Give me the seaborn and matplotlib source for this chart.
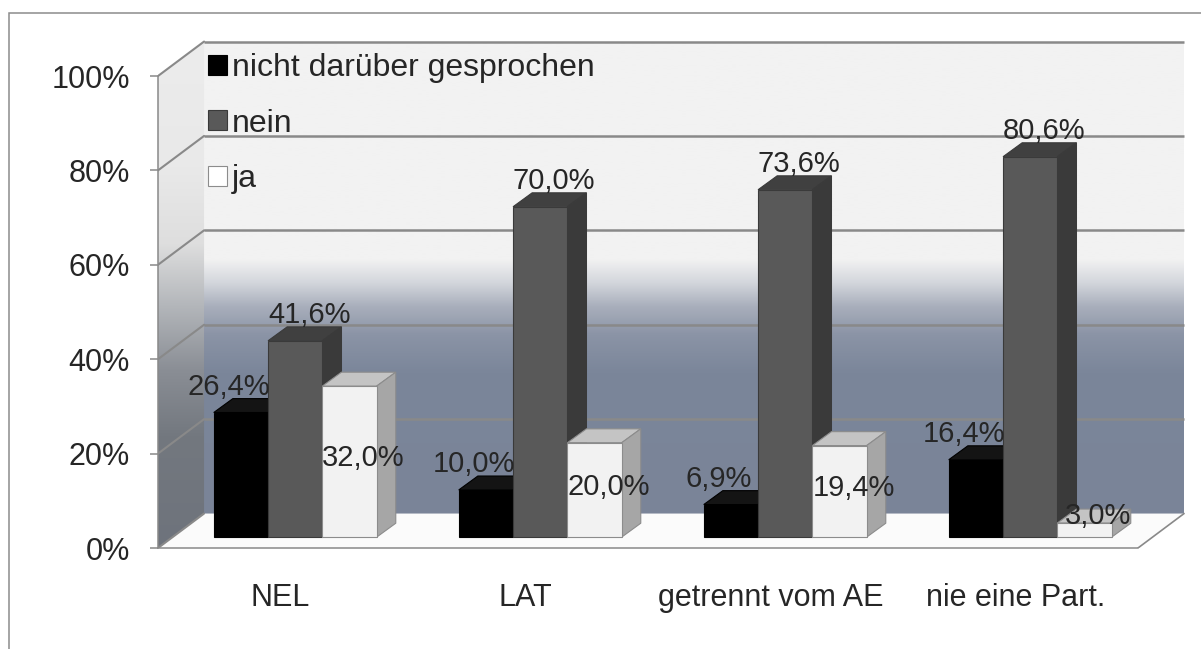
import matplotlib
matplotlib.use("Agg")
import matplotlib.pyplot as plt
import matplotlib.patches as mpatches
from matplotlib.colors import LinearSegmentedColormap
import numpy as np
import pandas as pd
import seaborn as sns

# Daten (Anteile in %)
categories = ["NEL", "LAT", "getrennt vom AE", "nie eine Part."]
series = ["nicht darüber gesprochen", "nein", "ja"]
nicht_darueber = [26.4, 10.0, 6.9, 16.4]
nein = [41.6, 70.0, 73.6, 80.6]
ja = [32.0, 20.0, 19.4, 3.0]
y_ticks = [0, 20, 40, 60, 80, 100]

front_colors = ["#000000", "#595959", "#f2f2f2"]
side_colors = ["#050505", "#3a3a3a", "#a6a6a6"]
top_colors = ["#141414", "#404040", "#c4c4c4"]
edge_colors = ["#000000", "#3a3a3a", "#8c8c8c"]
grid_col = "#898989"

df = pd.DataFrame({
    "Kategorie": categories * 3,
    "Antwort": [s for s in series for _ in categories],
    "Anteil": nicht_darueber + nein + ja,
})

sns.set_style("white")
plt.rcParams["font.family"] = ["Liberation Sans", "DejaVu Sans"]

W, H = 1201, 649
fig = plt.figure(figsize=(W / 100, H / 100), dpi=100)

# Plotbox in Pixeln (Vorderkante)
x0_px, y0_px = 158, 548
cat_px, pct_px = 245, 4.72
xlim = (-0.5, 3.75)
ylim = (0, 108)
ax = fig.add_axes([x0_px / W, (H - y0_px) / H,
                   (xlim[1] - xlim[0]) * cat_px / W,
                   (ylim[1] - ylim[0]) * pct_px / H])
ax.patch.set_alpha(0)

# 3D-Tiefe der Wand und der Säulen (in Dateneinheiten)
dxf, dyf = 0.188, 7.3
ox, oy = 0.06, 2.3
bdx, bdy = 0.078, 2.95

# Rückwand mit Verlauf
wall_cmap = LinearSegmentedColormap.from_list("wall", [
    (0.0, "#7a8498"), (0.30, "#7b869a"), (0.38, "#8b94a6"), (0.44, "#a9afbc"),
    (0.49, "#d3d6dc"), (0.54, "#f2f2f2"), (1.0, "#f2f2f2")])
grad = np.linspace(0, 1, 256).reshape(-1, 1)
ax.imshow(grad, cmap=wall_cmap, extent=[-0.5 + dxf, 3.5 + dxf, dyf, 100 + dyf],
          origin="lower", aspect="auto", zorder=0, interpolation="bilinear")

# Seitenwand
side_cmap = LinearSegmentedColormap.from_list("side", [
    (0.0, "#6e737c"), (0.22, "#73787f"), (0.35, "#8a8e95"), (0.48, "#b4b7bb"),
    (0.60, "#dedede"), (0.75, "#e9e9e9"), (1.0, "#ececec")])
side_poly = mpatches.Polygon([(-0.5, 0), (-0.5 + dxf, dyf), (-0.5 + dxf, 100 + dyf), (-0.5, 100)],
                             closed=True, fc="none", ec="none")
ax.add_patch(side_poly)
im = ax.imshow(grad, cmap=side_cmap, extent=[-0.5, -0.5 + dxf, 0, 100 + dyf],
               origin="lower", aspect="auto", zorder=0, interpolation="bilinear")
im.set_clip_path(side_poly)

# Boden
floor = mpatches.Polygon([(-0.5, 0), (3.5, 0), (3.5 + dxf, dyf), (-0.5 + dxf, dyf)],
                         closed=True, fc="#fbfbfb", ec="none", zorder=1)
ax.add_patch(floor)
ax.plot([3.5, 3.5 + dxf], [0, dyf], color=grid_col, lw=1.2, zorder=2)

# Gitternetz
for t in y_ticks:
    ax.plot([-0.5, -0.5 + dxf], [t, t + dyf], color=grid_col, lw=1.5, zorder=2)
    if t > 0:
        ax.plot([-0.5 + dxf, 3.5 + dxf], [t + dyf, t + dyf], color=grid_col, lw=1.8, zorder=2,
                solid_capstyle="butt")

sns.barplot(data=df, x="Kategorie", y="Anteil", hue="Antwort", palette=front_colors,
            saturation=1, width=0.665, ax=ax, legend=False)

# Säulen als Quader
bars = []
for k, cont in enumerate(ax.containers):
    for p in cont.patches:
        bars.append((p.get_x(), k, p))
bars.sort(key=lambda t: t[0])
for i, (_, k, p) in enumerate(bars):
    x, w, h = p.get_x() + ox, p.get_width(), p.get_height()
    p.set_x(x)
    p.set_y(oy)
    p.set_edgecolor(edge_colors[k])
    p.set_linewidth(0.8)
    z = 5 + i * 0.01
    p.set_zorder(z + 0.002)
    top = mpatches.Polygon([(x, oy + h), (x + w, oy + h), (x + w + bdx, oy + h + bdy), (x + bdx, oy + h + bdy)],
                           closed=True, fc=top_colors[k], ec=edge_colors[k], lw=0.8, zorder=z)
    side = mpatches.Polygon([(x + w, oy), (x + w + bdx, oy + bdy), (x + w + bdx, oy + h + bdy), (x + w, oy + h)],
                            closed=True, fc=side_colors[k], ec=edge_colors[k], lw=0.8, zorder=z + 0.001)
    ax.add_patch(top)
    ax.add_patch(side)

    txt = f"{h:.1f}%".replace(".", ",")
    cx = x + w / 2
    if k == 0:
        ax.text(cx - 0.05, oy + h + bdy - 0.5, txt, ha="center", va="bottom", fontsize=21, zorder=20)
    elif k == 1:
        ax.text(cx + 0.057, oy + h + bdy - 0.5, txt, ha="center", va="bottom", fontsize=21, zorder=20)
    else:
        ax.text(cx + 0.057, oy + max(h / 2 + bdy / 2 - 0.8, 4.5), txt, ha="center", va="center",
                fontsize=21, zorder=20)

# Achsen
ax.set_xlim(xlim)
ax.set_ylim(ylim)
ax.set_xlabel("")
ax.set_ylabel("")
ax.set_xticks(range(len(categories)))
ax.set_xticklabels(categories, fontsize=22)
ax.set_xticks(np.arange(-0.5, len(categories), 1), minor=True)
ax.set_yticks(y_ticks)
ax.set_yticklabels([f"{t}%" for t in y_ticks], fontsize=22)
ax.tick_params(axis="x", which="major", length=0, pad=25)
ax.tick_params(axis="x", which="minor", length=5.8, width=1.1, color=grid_col, direction="out")
ax.tick_params(axis="y", length=5.8, width=1.1, color=grid_col, direction="out", pad=14.4, left=True)
for s in ["top", "right"]:
    ax.spines[s].set_visible(False)
ax.spines["left"].set_bounds(0, 100)
ax.spines["bottom"].set_bounds(-0.5, 3.5)
for s in ["left", "bottom"]:
    ax.spines[s].set_color(grid_col)
    ax.spines[s].set_linewidth(1.1)
    ax.spines[s].set_zorder(3)

# Legende
handles = [mpatches.Patch(facecolor=("#ffffff" if k == 2 else front_colors[k]),
                          edgecolor=edge_colors[k], lw=0.8) for k in range(len(series))]
leg = ax.legend(handles, series, loc="upper left", bbox_to_anchor=(208 / W, 1 - 53 / H),
                bbox_transform=fig.transFigure, frameon=False, fontsize=23,
                handlelength=0.6, handleheight=0.6, handletextpad=0.15,
                labelspacing=0.8, borderpad=0, borderaxespad=0)
leg.set_zorder(30)

# Rahmen
fig.add_artist(mpatches.Rectangle((9 / W, -0.1), 1.2, 1.1 - 13 / H, transform=fig.transFigure,
                                  fill=False, ec="#8c8c8c", lw=1.1))

fig.savefig("out.png", dpi=100)
